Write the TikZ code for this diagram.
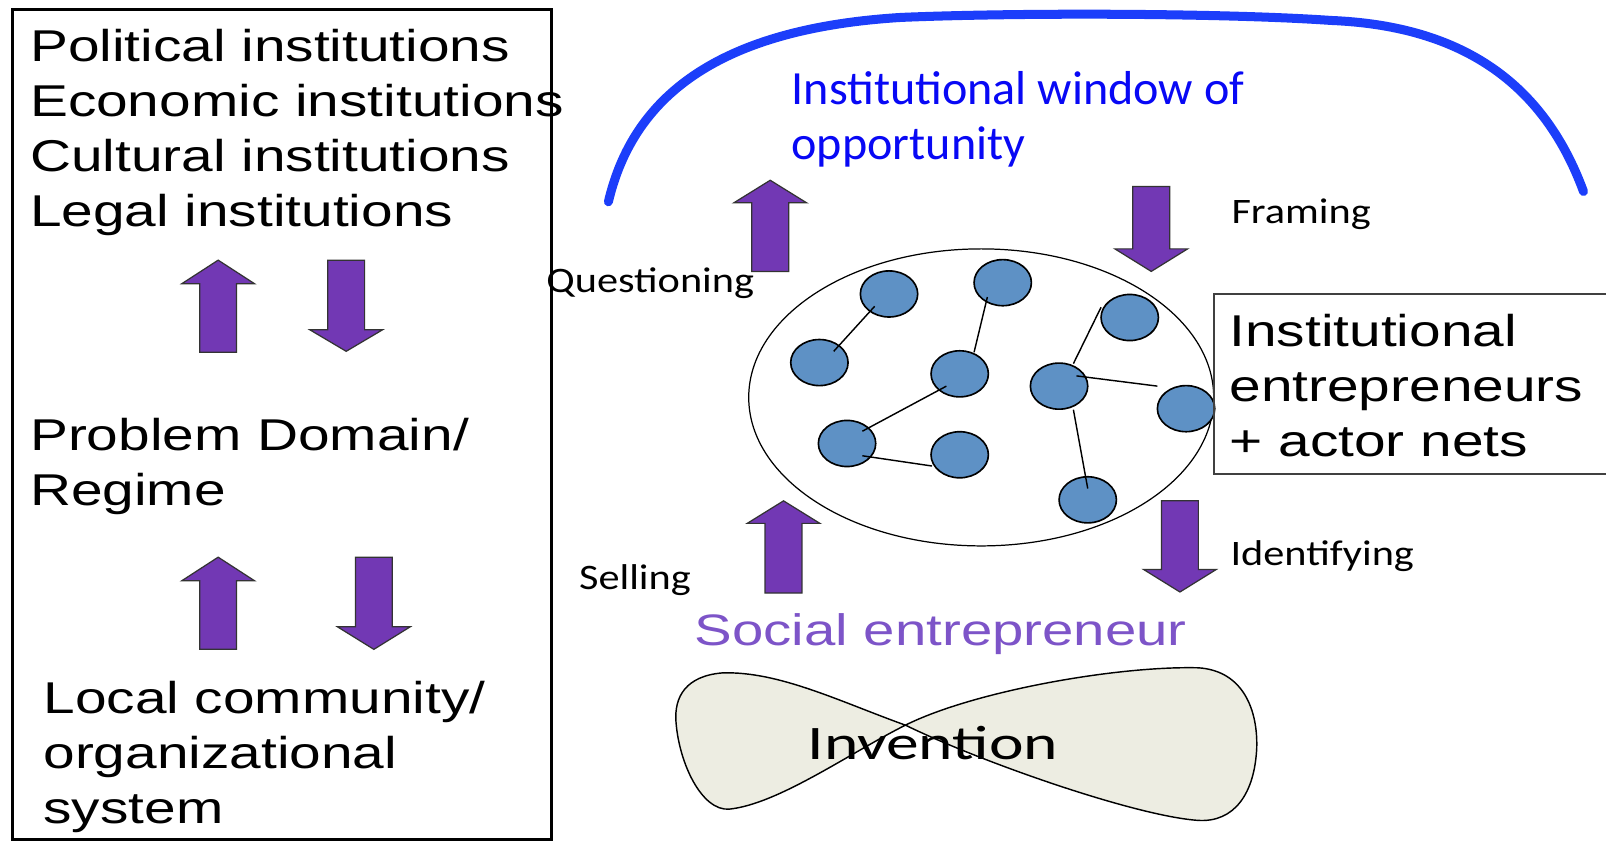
\documentclass[tikz,border=0pt]{standalone}
\usepackage{fontspec}
\usepackage{graphicx}
\usetikzlibrary{shapes.geometric}
\newfontfamily\arialf{Liberation Sans}
\newfontfamily\calf{Carlito}
\definecolor{arrowpurple}{RGB}{114,56,180}
\definecolor{nodeblue}{RGB}{94,145,197}
\definecolor{sepurple}{RGB}{125,84,200}
\definecolor{arcblue}{RGB}{28,62,250}
\definecolor{titleblue}{RGB}{8,8,245}
\definecolor{bowfill}{RGB}{237,237,226}
\newcommand{\SX}[2]{\scalebox{#1}[1]{#2}}
\newcommand{\TL}[1]{\begin{tabular}[t]{@{}l@{}}#1\end{tabular}}
\newcommand{\UpBlk}[4]{\draw[blkarrow] (#1,#2) -- (#1+35.5,#3) -- (#1+18,#3) -- (#1+18,#4) -- (#1-18,#4) -- (#1-18,#3) -- (#1-35.5,#3) -- cycle;}
\newcommand{\DnBlk}[4]{\draw[blkarrow] (#1-18,#2) -- (#1+18,#2) -- (#1+18,#3) -- (#1+35.5,#3) -- (#1,#4) -- (#1-35.5,#3) -- (#1-18,#3) -- cycle;}
\begin{document}
\begin{tikzpicture}[x=0.5pt,y=-0.5pt,
  bigtext/.style={anchor=base west, inner sep=0pt, font=\arialf\fontsize{21.75}{26.9}\selectfont},
  proclabel/.style={anchor=base west, inner sep=0pt, font=\calf\fontsize{17.5}{21}\selectfont},
  blkarrow/.style={fill=arrowpurple, draw=black!80, line width=0.6pt, line join=miter},
  actor/.style={ellipse, draw=black, line width=0.8pt, fill=nodeblue, minimum width=28pt, minimum height=22.5pt, inner sep=0pt},
  link/.style={draw=black, line width=0.7pt}]
\useasboundingbox[fill=white] (0,0) rectangle (1568,822);

% left box
\draw[line width=1.5pt] (12,9) rectangle (538,820);
\node[bigtext] (inst4) at (29,60.2) {\SX{1.275}{\TL{Political institutions\\Economic institutions\\Cultural institutions\\Legal institutions}}};
\node[bigtext] (problem) at (29,439.4) {\SX{1.275}{\TL{Problem Domain/\\Regime}}};
\node[bigtext] (local) at (42,696.5) {\SX{1.275}{\TL{Local community/\\organizational\\system}}};
\UpBlk{213}{254}{277}{344}
\DnBlk{338}{254}{322}{343}
\UpBlk{213}{544}{567}{634}
\DnBlk{365}{544}{612}{634}

% window arc
\draw[arcblue, line width=4.4pt, line cap=round]
  (594,197) .. controls (618,95) and (700,28) .. (880,17)
  .. controls (1000,12) and (1200,13) .. (1300,20)
  .. controls (1420,25) and (1505,75) .. (1546,187);
\node[anchor=base west, inner sep=0pt, text=titleblue, font=\calf\fontsize{23.25}{26.75}\selectfont] (title) at (772.5,102.5) {\SX{1.01}{\TL{Institutional window of\\opportunity}}};

% network
\node[ellipse, draw=black, line width=0.6pt, minimum width=227pt, minimum height=145pt, inner sep=0pt] (net) at (958,388) {};
\node[actor] (c1) at (868,287) {};
\node[actor] (c2) at (979,276) {};
\node[actor] (c3) at (800,354) {};
\node[actor] (c4) at (937,365) {};
\node[actor] (c5) at (1103,310) {};
\node[actor] (c6) at (1034,377) {};
\node[actor] (c7) at (1158,399) {};
\node[actor] (c8) at (827,433) {};
\node[actor] (c9) at (937,444) {};
\node[actor] (c10) at (1062,488) {};
\draw[link] ([shift={(-14,12)}]c1.center) -- ([shift={(14,-11)}]c3.center);
\draw[link] ([shift={(-15,14)}]c2.center) -- ([shift={(14,-21)}]c4.center);
\draw[link] ([shift={(-13,12)}]c4.center) -- ([shift={(15,-12)}]c8.center);
\draw[link] ([shift={(15,12)}]c8.center) -- ([shift={(-27,11)}]c9.center);
\draw[link] ([shift={(14,-22)}]c6.center) -- ([shift={(-28,-10)}]c5.center);
\draw[link] ([shift={(17,-10)}]c6.center) -- ([shift={(-28,-22)}]c7.center);
\draw[link] ([shift={(14,23)}]c6.center) -- ([shift={(0,-11)}]c10.center);

% institutional entrepreneurs box
\draw[draw=black!75, line width=0.9pt] (1185,287) rectangle (1580,463);
\node[bigtext] (inst) at (1200,338.5) {\SX{1.275}{\TL{Institutional\\entrepreneurs\\+ actor nets}}};

% process arrows and labels
\UpBlk{752}{176}{198}{265}
\DnBlk{1124}{182}{243}{265}
\DnBlk{1152}{489}{556}{578}
\UpBlk{765}{489}{511}{579}
\node[proclabel] (questioning) at (533,285.8) {\SX{1.18}{Questioning}};
\node[proclabel] (framing) at (1202,218) {\SX{1.18}{Framing}};
\node[proclabel] (identifying) at (1201,552) {\SX{1.18}{Identifying}};
\node[proclabel] (selling) at (565,576) {\SX{1.18}{Selling}};

% social entrepreneur
\node[bigtext, text=sepurple, font=\arialf\fontsize{21.5}{26}\selectfont] (social) at (678,630) {\SX{1.28}{Social entrepreneur}};

% invention bow tie
\draw[fill=bowfill, draw=black, line width=0.7pt]
  (884,708) .. controls (820,685) and (760,655) .. (705,657)
  .. controls (670,660) and (658,680) .. (660,705)
  .. controls (663,745) and (685,792) .. (712,790)
  .. controls (760,785) and (830,735) .. (884,708)
  .. controls (950,675) and (1090,650) .. (1170,652)
  .. controls (1215,655) and (1228,695) .. (1227,730)
  .. controls (1225,775) and (1205,803) .. (1170,801)
  .. controls (1110,797) and (960,745) .. (884,708) -- cycle;
\node[anchor=base west, inner sep=0pt, font=\calf\fontsize{23.5}{28}\selectfont] (invention) at (788,742) {\SX{1.36}{Invention}};
\end{tikzpicture}
\end{document}
